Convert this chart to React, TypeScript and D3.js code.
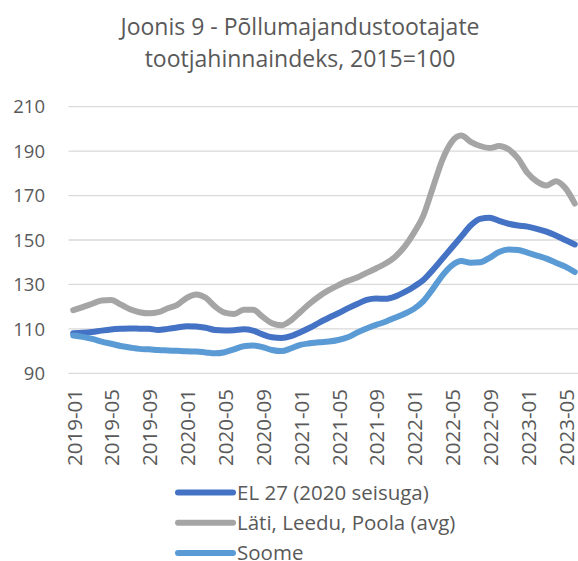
import React from "react";
import * as d3 from "d3";

const months: string[] = [];
for (let y = 2019; y <= 2023; y++) {
  for (let m = 1; m <= 12; m++) {
    if (y === 2023 && m > 6) break;
    months.push(`${y}-${String(m).padStart(2, "0")}`);
  }
}

const titleLines = ["Joonis 9 - Põllumajandustootajate", "tootjahinnaindeks, 2015=100"];
const yTicks = [90, 110, 130, 150, 170, 190, 210];
const seriesNames = ["EL 27 (2020 seisuga)", "Läti, Leedu, Poola (avg)", "Soome"];

const el27 = [
  108, 108.2, 108.6, 109.2, 109.7, 110, 110.2, 110.1, 110, 109.5,
  110, 110.6, 111.2, 111.1, 110.5, 109.5, 109.3, 109.4, 109.8, 109.2,
  107.5, 106.2, 105.9, 106.7, 108.5, 110.5, 112.8, 115, 117, 119.2,
  121.2, 123, 123.7, 123.5, 124.5, 126.5, 129, 132, 136.5, 141.5,
  146.5, 151.5, 156.5, 159.5, 160, 158.6, 157.3, 156.5, 156, 155,
  153.8, 152, 150, 148,
];
const baltPol = [
  118.4, 119.8, 121.3, 122.8, 123, 121, 118.8, 117.5, 117, 117.5,
  119.3, 120.8, 124, 125.5, 124, 120, 117.3, 116.7, 118.6, 118.6,
  115.5, 112.5, 111.6, 113.8, 117.6, 121.4, 124.7, 127.4, 129.6, 131.6,
  133.1, 135.2, 137.2, 139.4, 142.4, 146.9, 153.2, 161, 173.5, 186,
  194.2, 197, 194.2, 192.3, 191.4, 192.3, 190.8, 186.7, 180.2, 176.3,
  174.5, 176.5, 173.4, 166.4,
];
const soome = [
  107, 106.4, 105.5, 104.3, 103.3, 102.3, 101.6, 101, 100.8, 100.5,
  100.3, 100.1, 99.9, 99.8, 99.4, 99, 99.5, 100.8, 102.2, 102.5,
  101.8, 100.5, 100, 101.2, 102.8, 103.5, 104, 104.3, 105, 106.2,
  108.3, 110.2, 111.8, 113.2, 115, 116.8, 119, 122.5, 128, 134,
  138.5, 140.5, 139.8, 140, 142, 144.6, 145.7, 145.5, 144.3, 143,
  141.6, 139.8, 138, 135.6,
];
const seriesValues = [el27, baltPol, soome];
const colors = ["#4472C4", "#A5A5A5", "#5B9BD5"];

const W = 578;
const H = 561;
const plotLeft = 68.5;
const plotRight = 579.5;
const plotTop = 106.7;
const plotBottom = 373.3;
const textColor = "#595959";
const font = "'Open Sans', sans-serif";

export default function App() {
  const x = d3.scaleBand<string>().domain(months).range([plotLeft, plotRight]);
  const cx = (m: string) => (x(m) as number) + x.bandwidth() / 2;
  const y = d3.scaleLinear().domain([90, 210]).range([plotBottom, plotTop]);
  const line = d3
    .line<number>()
    .x((_, i) => cx(months[i]))
    .y((d) => y(d))
    .curve(d3.curveMonotoneX);

  const xTickLabels = months.filter((_, i) => i % 4 === 0);

  return (
    <svg
      width={W}
      height={H}
      style={{ position: "absolute", left: 0, top: 0, background: "#fff" }}
      fontFamily={font}
    >
      <rect x={0} y={0} width={W} height={H} fill="#fff" />
      {titleLines.map((t, i) => (
        <text key={i} x={300} y={34.5 + i * 32} textAnchor="middle" fontSize={23} fill={textColor}>
          {t}
        </text>
      ))}
      {yTicks.map((t) => (
        <g key={t}>
          <line x1={plotLeft} x2={W} y1={y(t)} y2={y(t)} stroke="#D9D9D9" strokeWidth={1.3} />
          <text x={45} y={y(t)} dy="0.36em" textAnchor="end" fontSize={18.5} fill={textColor}>
            {t}
          </text>
        </g>
      ))}
      {xTickLabels.map((m) => (
        <text
          key={m}
          transform={`translate(${cx(m) + 1},389) rotate(-90)`}
          dy="0.36em"
          textAnchor="end"
          fontSize={20.5}
          fill={textColor}
        >
          {m}
        </text>
      ))}
      {seriesValues.map((vals, si) => (
        <path
          key={si}
          d={line(vals) as string}
          fill="none"
          stroke={colors[si]}
          strokeWidth={6}
          strokeLinejoin="round"
          strokeLinecap="round"
        />
      ))}
      {seriesNames.map((n, i) => {
        const ly = 492.5 + i * 30.2;
        return (
          <g key={n}>
            <line x1={178} x2={233} y1={ly} y2={ly} stroke={colors[i]} strokeWidth={6} strokeLinecap="round" />
            <text x={237} y={ly} dy="0.36em" fontSize={20.5} fill={textColor}>
              {n}
            </text>
          </g>
        );
      })}
    </svg>
  );
}
